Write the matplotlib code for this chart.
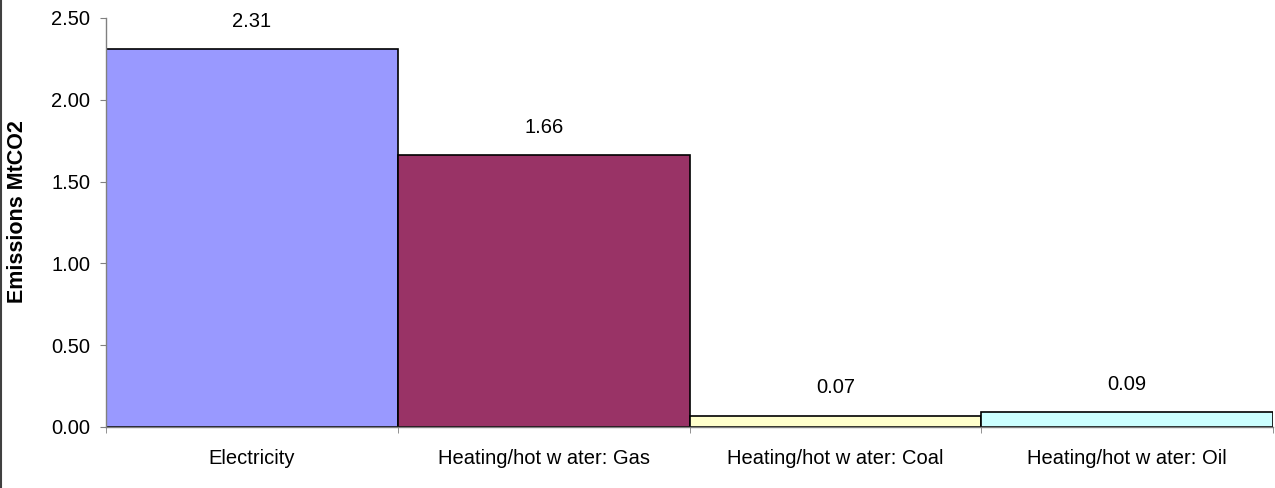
import matplotlib
matplotlib.use("Agg")
import matplotlib.pyplot as plt
from matplotlib.lines import Line2D
import numpy as np

plt.rcParams['font.family'] = ['Liberation Sans', 'DejaVu Sans']

# Chart data
categories = ['Electricity', 'Heating/hot w ater: Gas', 'Heating/hot w ater: Coal', 'Heating/hot w ater: Oil']
emissions = [2.31, 1.66, 0.07, 0.09]
colors = ['#9999FF', '#993366', '#FFFFCC', '#CCFFFF']

fig = plt.figure(figsize=(12.75, 4.88), dpi=100)
ax = fig.add_axes([106 / 1275, 61 / 488, 1167 / 1275, 409 / 488])

x = np.arange(len(categories))
ax.bar(x, emissions, width=1.0, color=colors, edgecolor='black', linewidth=1.2, zorder=2)

for xi, v in zip(x, emissions):
    ax.annotate('%.2f' % v, (xi, v), xytext=(0, 13), textcoords='offset points',
                ha='center', va='bottom', fontsize=14.5)

ax.set_xlim(-0.5, len(categories) - 0.5)
ax.set_ylim(0, 2.5)
ax.set_yticks(np.arange(0, 2.51, 0.5))
ax.set_yticklabels(['%.2f' % t for t in np.arange(0, 2.51, 0.5)])
ax.set_xticks(x)
ax.set_xticklabels(categories)
ax.set_xticks(np.arange(-0.5, len(categories)), minor=True)
ax.tick_params(axis='x', which='major', length=0, pad=16, labelsize=14.5)
ax.tick_params(axis='x', which='minor', length=4.5, color='#808080', direction='out')
ax.tick_params(axis='y', length=4.5, color='#808080', labelsize=14.5, pad=7)

for s in ['top', 'right']:
    ax.spines[s].set_visible(False)
for s in ['left', 'bottom']:
    ax.spines[s].set_color('#808080')
    ax.spines[s].set_linewidth(1.0)

ax.set_ylabel('Emissions MtCO2', fontsize=15.5, fontweight='bold')
ax.yaxis.set_label_coords(-78 / 1167, 215 / 409)

# left border of chart area
fig.add_artist(Line2D([1.5 / 1275, 1.5 / 1275], [0, 1], transform=fig.transFigure, color='#404040', linewidth=1.5))

fig.savefig('out.png', dpi=100)
